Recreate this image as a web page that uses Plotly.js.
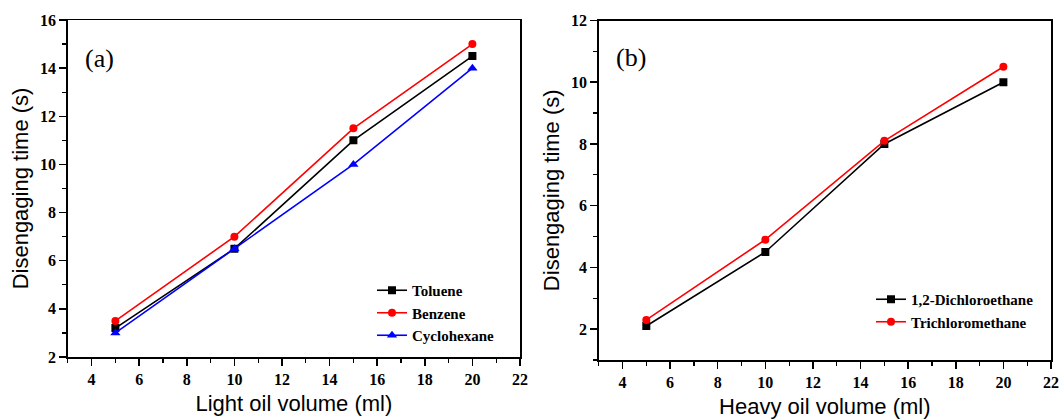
<!DOCTYPE html>
<html>
<head>
<meta charset="utf-8">
<script src="https://cdn.plot.ly/plotly-3.0.1.min.js"></script>
<style>html,body{margin:0;padding:0;background:#fff;}#chart{width:1062px;height:420px;}</style>
</head>
<body>
<div id="chart"></div>
<script>
// Panel (a): light oils
const volumeA = [5, 10, 15, 20];
const toluene = [3.2, 6.5, 11, 14.5];
const benzene = [3.5, 7, 11.5, 15];
const cyclohexane = [3, 6.5, 10, 14];
// Panel (b): heavy oils
const volumeB = [5, 10, 15, 20];
const dichloroethane = [2.1, 4.5, 8, 10];
const trichloromethane = [2.3, 4.9, 8.1, 10.5];

const serif = "Liberation Serif";
const sans = "Liberation Sans";

function tr(x, y, name, color, symbol, xa, ya, lg, size) {
  return {
    x: x, y: y, name: name, type: 'scatter', mode: 'lines+markers',
    xaxis: xa, yaxis: ya, legend: lg,
    line: {color: color, width: 1.6},
    marker: {color: color, symbol: symbol, size: size}
  };
}

const data = [
  tr(volumeA, toluene, 'Toluene', '#000000', 'square', 'x', 'y', 'legend', 8),
  tr(volumeA, benzene, 'Benzene', '#ff0000', 'circle', 'x', 'y', 'legend', 8),
  tr(volumeA, cyclohexane, 'Cyclohexane', '#0000ff', 'triangle-up', 'x', 'y', 'legend', 9),
  tr(volumeB, dichloroethane, '1,2-Dichloroethane', '#000000', 'square', 'x2', 'y2', 'legend2', 8),
  tr(volumeB, trichloromethane, 'Trichloromethane', '#ff0000', 'circle', 'x2', 'y2', 'legend2', 8)
];

function xax(domain, anchor, title) {
  return {
    domain: domain, anchor: anchor, range: [3, 22], dtick: 2, tick0: 0,
    showline: true, mirror: true, linecolor: '#000', linewidth: 1.5,
    ticks: 'outside', ticklen: 7, tickwidth: 1.5, tickcolor: '#000',
    minor: {dtick: 1, ticks: 'outside', ticklen: 4, tickwidth: 1.2, tickcolor: '#000'},
    showgrid: false, zeroline: false,
    tickfont: {family: serif, size: 16, color: '#000', weight: 'bold'},
    title: {text: title, font: {family: sans, size: 22, color: '#000', weight: 'normal'}, standoff: 9}
  };
}
function yax(domain, anchor, range) {
  return {
    domain: domain, anchor: anchor, range: range, dtick: 2, tick0: 0,
    showline: true, mirror: true, linecolor: '#000', linewidth: 1.5,
    ticks: 'outside', ticklen: 7, tickwidth: 1.5, tickcolor: '#000',
    minor: {dtick: 1, ticks: 'outside', ticklen: 4, tickwidth: 1.2, tickcolor: '#000'},
    showgrid: false, zeroline: false,
    tickfont: {family: serif, size: 16, color: '#000', weight: 'bold'},
    title: {text: 'Disengaging time (s)', font: {family: sans, size: 22, color: '#000', weight: 'normal'}, standoff: 5}
  };
}

const layout = {
  width: 1062, height: 420,
  margin: {l: 0, r: 0, t: 0, b: 0},
  paper_bgcolor: '#fff', plot_bgcolor: '#fff',
  font: {family: serif, size: 16, color: '#000', weight: 'bold'},
  showlegend: true,
  xaxis: xax([67.8/1062, 520/1062], 'y', 'Light oil volume (ml)'),
  yaxis: yax([1 - 357/420, 1 - 20/420], 'x', [2, 16]),
  xaxis2: xax([598.7/1062, 1051/1062], 'y2', 'Heavy oil volume (ml)'),
  yaxis2: yax([1 - 360/420, 1 - 20.5/420], 'x2', [1, 12]),
  legend: {
    x: 372/1062, y: 1 - 274/420, xanchor: 'left', yanchor: 'top',
    bgcolor: 'rgba(0,0,0,0)', font: {family: serif, size: 15, color: '#000', weight: 'bold'},
    tracegroupgap: 0, itemwidth: 30
  },
  legend2: {
    x: 871/1062, y: 1 - 283/420, xanchor: 'left', yanchor: 'top',
    bgcolor: 'rgba(0,0,0,0)', font: {family: serif, size: 15, color: '#000', weight: 'bold'},
    tracegroupgap: 0, itemwidth: 30
  },
  annotations: [
    {text: '(a)', xref: 'x domain', yref: 'y domain', x: 0.034, y: 0.885, xanchor: 'left', yanchor: 'middle', showarrow: false, font: {family: serif, size: 26, color: '#000', weight: 'normal'}},
    {text: '(b)', xref: 'x2 domain', yref: 'y2 domain', x: 0.034, y: 0.89, xanchor: 'left', yanchor: 'middle', showarrow: false, font: {family: serif, size: 26, color: '#000', weight: 'normal'}}
  ]
};

Plotly.newPlot('chart', data, layout, {displayModeBar: false, staticPlot: true});
</script>
</body>
</html>
